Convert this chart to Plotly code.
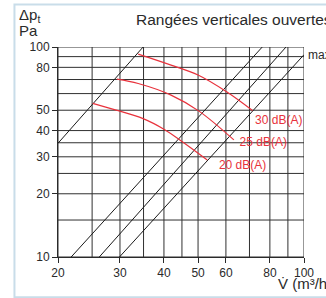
import plotly.graph_objects as go

# ---- data ----
x_tick_vals = [20, 30, 40, 50, 60, 80, 100]
y_tick_vals = [10, 20, 30, 40, 50, 80, 100]
v_grid = [20, 25, 30, 35, 40, 45, 50, 60, 70, 80, 90, 100]
p_grid = [10, 15, 20, 25, 30, 35, 40, 50, 60, 70, 80, 90, 100]

size_names = ["3", "7", "9"]
size_label_v = [35.5, 75.7, 89.4]
size_label_p = [109.6, 109.6, 109.6]
line3_v = [20, 34.9]
line3_p = [34.8, 100]
line7_v = [21.8, 76.1]
line7_p = [10, 100]
line9_v = [26.2, 88.9]
line9_p = [10, 100]
linemax_v = [29.9, 100]
linemax_p = [10, 91.9]
max_label = "max"

db_names = ["30 dB(A)", "25 dB(A)", "20 dB(A)"]
db30_v = [33.8, 41.9, 50, 60.4, 71.4]
db30_p = [92.5, 82, 73.5, 61, 49.8]
db25_v = [29.4, 33.8, 41.9, 50.3, 63.2]
db25_p = [70.3, 67, 59, 49.5, 36.1]
db20_v = [25.1, 29.1, 34.9, 40, 45, 53.1]
db20_p = [53.9, 50.2, 45.6, 40.6, 35.5, 29.0]
db_label_v = [72.6, 65.6, 57.3]
db_label_p = [44.6, 34.9, 27.0]

RED = "#e8323c"
INK = "#2a2a2a"
FONT = "Liberation Sans"

fig = go.Figure()

# grid lines
gx, gy = [], []
for v in v_grid:
    gx += [v, v, None]
    gy += [p_grid[0], p_grid[-1], None]
for p in p_grid:
    gx += [v_grid[0], v_grid[-1], None]
    gy += [p, p, None]
fig.add_trace(go.Scatter(x=gx, y=gy, mode="lines", line=dict(color="#303030", width=1),
                         hoverinfo="skip", showlegend=False))

# size lines
for lv, lp in [(line3_v, line3_p), (line7_v, line7_p), (line9_v, line9_p), (linemax_v, linemax_p)]:
    fig.add_trace(go.Scatter(x=lv, y=lp, mode="lines", line=dict(color="#1a1a1a", width=1),
                             hoverinfo="skip", showlegend=False, cliponaxis=False))

# dB curves
for cv, cp in [(db30_v, db30_p), (db25_v, db25_p), (db20_v, db20_p)]:
    fig.add_trace(go.Scatter(x=cv, y=cp, mode="lines", line=dict(color=RED, width=1.2, shape="spline"),
                             hoverinfo="skip", showlegend=False))

fig.add_trace(go.Scatter(x=db_label_v, y=db_label_p, mode="text", text=db_names,
                         textposition="middle right", textfont=dict(color=RED, size=12, family=FONT),
                         hoverinfo="skip", showlegend=False, cliponaxis=False))

fig.add_trace(go.Scatter(x=size_label_v, y=size_label_p, mode="text", text=size_names,
                         textposition="middle center", textfont=dict(color=INK, size=12, family=FONT),
                         hoverinfo="skip", showlegend=False, cliponaxis=False))

fig.update_layout(
    width=326, height=298, autosize=False,
    margin=dict(l=58, r=18, t=47, b=41),
    paper_bgcolor="white", plot_bgcolor="white",
    font=dict(family=FONT, color=INK, size=12),
    xaxis=dict(type="log", range=[1.30103, 2], showgrid=False, zeroline=False,
               tickmode="array", tickvals=x_tick_vals, ticktext=[str(v) for v in x_tick_vals],
               ticks="outside", ticklen=5, tickcolor=INK, showline=True, linecolor=INK,
               tickfont=dict(size=12, color=INK, family=FONT)),
    yaxis=dict(type="log", range=[1, 2], showgrid=False, zeroline=False,
               tickmode="array", tickvals=y_tick_vals, ticktext=[str(v) for v in y_tick_vals],
               ticks="outside", ticklen=5, tickcolor=INK, showline=True, linecolor=INK,
               tickfont=dict(size=12, color=INK, family=FONT)),
    shapes=[dict(type="rect", xref="paper", yref="paper",
                 x0=-0.177, x1=1.3, y0=-0.192, y1=1.202,
                 line=dict(color="#c9dde9", width=2), layer="below")],
    annotations=[
        dict(text="Rangées verticales ouvertes", xref="paper", yref="paper", x=0.308, y=1.13,
             xanchor="left", yanchor="middle", showarrow=False,
             font=dict(size=15.5, color=INK, family=FONT)),
        dict(text="Δp<sub>t</sub>", xref="paper", yref="paper", x=-0.165, y=1.152,
             xanchor="left", yanchor="middle", showarrow=False,
             font=dict(size=15, color=INK, family=FONT)),
        dict(text="Pa", xref="paper", yref="paper", x=-0.165, y=1.078,
             xanchor="left", yanchor="middle", showarrow=False,
             font=dict(size=15, color=INK, family=FONT)),
        dict(text="V̇ (m³/h)", xref="paper", yref="paper", x=0.886, y=-0.128,
             xanchor="left", yanchor="middle", showarrow=False,
             font=dict(size=15, color=INK, family=FONT)),
        dict(text=max_label, xref="paper", yref="paper", x=1.007, y=0.963,
             xanchor="left", yanchor="middle", showarrow=False,
             font=dict(size=12, color=INK, family=FONT)),
    ],
)

fig.write_html("out.html", config={"displayModeBar": False},
               post_script="document.body.style.margin='0px';")
